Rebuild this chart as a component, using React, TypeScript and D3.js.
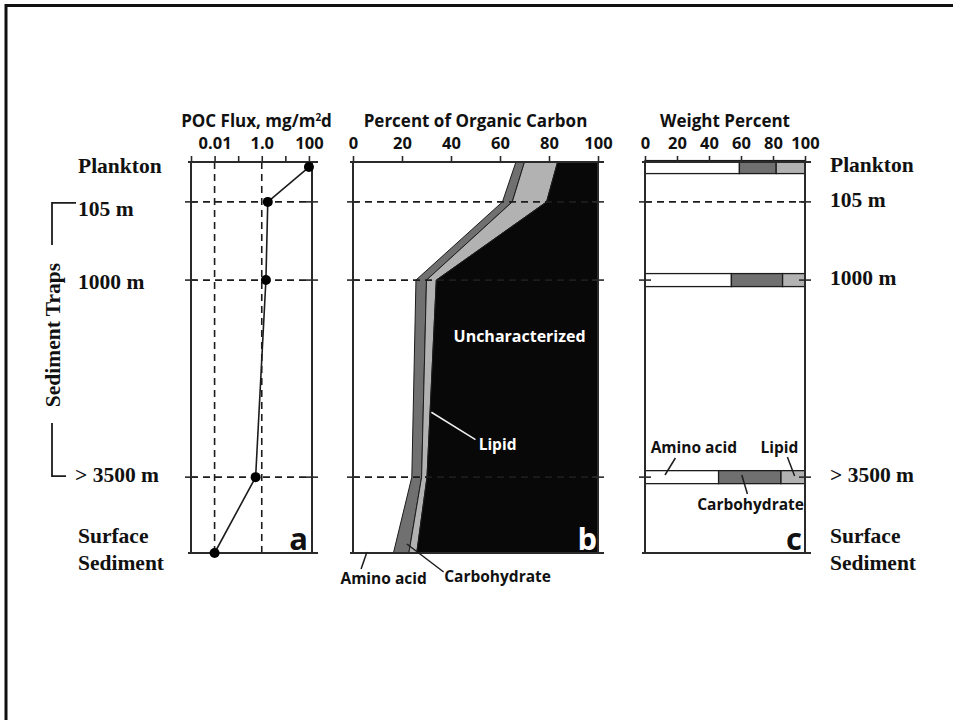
import { useRef, useEffect } from 'react';
import * as d3 from 'd3';

// sampling levels, top to bottom
const stations = ['Plankton', '105 m', '1000 m', '> 3500 m', 'Surface Sediment'];
// relative position of each level down the profile (0 = top axis, 1 = bottom)
const stationPos = [0.013, 0.102, 0.302, 0.806, 1.0];
const trapStations = ['105 m', '1000 m', '> 3500 m'];

// panel a: POC flux, mg/m2/d
const pocFlux = [100, 1.8, 1.5, 0.55, 0.01];
const fluxTicks = [0.001, 0.01, 0.1, 1, 10, 100];
const fluxLabels = ['', '0.01', '', '1.0', '', '100'];

// panel b: percent of organic carbon
const aminoOC = [66.5, 61, 25.7, 24, 16.5];
const carboOC = [3.5, 4, 4.3, 4, 6.3];
const lipidOC = [13.5, 14, 4, 2.2, 3.2];

// panel c: weight percent
const weightStations = ['Plankton', '1000 m', '> 3500 m'];
const aminoWt = [59, 54, 46];
const carboWt = [23, 32, 39];
const lipidWt = [18, 14, 15];

const pctTicks = [0, 20, 40, 60, 80, 100];

const SANS = "'Open Sans', 'Liberation Sans', sans-serif";
const SERIF = "'Liberation Serif', 'Times New Roman', serif";
const INK = '#1c1c1c';
const DARK = '#707070';
const LIGHT = '#b2b2b2';

export default function App() {
  const ref = useRef<SVGSVGElement | null>(null);

  useEffect(() => {
    if (!ref.current) return;
    const svg = d3.select(ref.current);
    svg.selectAll('*').remove();

    const top = 162;
    const bottom = 553;
    const y = d3.scaleLinear().domain([0, 1]).range([top, bottom]);
    const yOf = (s: string) => y(stationPos[stations.indexOf(s)]);

    const xa = d3.scaleLog().domain([0.001, 135]).range([191, 312]);
    const xb = d3.scaleLinear().domain([0, 100]).range([353, 598]);
    const xc = d3.scaleLinear().domain([0, 100]).range([645, 805]);

    // page frame (top and left only)
    svg.append('path').attr('d', 'M6,720V5.5H953').attr('fill', 'none').attr('stroke', '#111').attr('stroke-width', 3);

    // ---------- panel b: stacked profile ----------
    const profile = stations.map((s, i) => ({
      pos: i === 0 ? 0 : stationPos[i],
      amino: aminoOC[i],
      carbo: carboOC[i],
      lipid: lipidOC[i],
      other: 100 - aminoOC[i] - carboOC[i] - lipidOC[i],
    }));
    const stackB = d3.stack<any>().keys(['amino', 'carbo', 'lipid', 'other'])(profile);
    const fillB: Record<string, string> = { amino: '#fff', carbo: DARK, lipid: LIGHT, other: '#080808' };
    const areaB = d3
      .area<any>()
      .y(d => y(d.data.pos))
      .x0(d => xb(d[0]))
      .x1(d => xb(d[1]));
    svg
      .append('g')
      .selectAll('path')
      .data(stackB)
      .join('path')
      .attr('d', d => areaB(d as any))
      .attr('fill', d => fillB[d.key])
      .attr('stroke', d => (d.key === 'amino' ? 'none' : INK))
      .attr('stroke-width', 1);

    const dashed = (g: any, x1: number, y1: number, x2: number, y2: number) =>
      g
        .append('line')
        .attr('x1', x1)
        .attr('y1', y1)
        .attr('x2', x2)
        .attr('y2', y2)
        .attr('stroke', INK)
        .attr('stroke-width', 1.6)
        .attr('stroke-dasharray', '7,5');

    const grid = svg.append('g');
    // panel a grid
    [0.01, 1].forEach(v => dashed(grid, xa(v), top, xa(v), bottom));
    trapStations.forEach(s => dashed(grid, xa.range()[0], yOf(s), xa.range()[1], yOf(s)));
    // panel b grid
    trapStations.forEach(s => dashed(grid, xb(0), yOf(s), xb(100), yOf(s)));
    // panel c grid (only where no bar)
    trapStations.filter(s => !weightStations.includes(s)).forEach(s => dashed(grid, xc(0), yOf(s), xc(100), yOf(s)));

    // ---------- panel c: stacked bars ----------
    const wt = weightStations.map((s, i) => ({ station: s, amino: aminoWt[i], carbo: carboWt[i], lipid: lipidWt[i] }));
    const stackC = d3.stack<any>().keys(['amino', 'carbo', 'lipid'])(wt);
    const fillC: Record<string, string> = { amino: '#fff', carbo: DARK, lipid: LIGHT };
    const barH = 13;
    svg
      .append('g')
      .selectAll('g')
      .data(stackC)
      .join('g')
      .attr('fill', d => fillC[d.key])
      .selectAll('rect')
      .data(d => d)
      .join('rect')
      .attr('x', d => xc(d[0]))
      .attr('width', d => xc(d[1]) - xc(d[0]))
      .attr('y', d => yOf(d.data.station) - barH / 2)
      .attr('height', barH)
      .attr('stroke', INK)
      .attr('stroke-width', 1.3);

    // ---------- panel frames, axes ----------
    const frames = [
      { lo: xa.range()[0], hi: xa.range()[1] },
      { lo: xb(0), hi: xb(100) },
      { lo: xc(0), hi: xc(100) },
    ];
    const fr = svg.append('g').attr('stroke', '#2a2a2a').attr('fill', 'none');
    frames.forEach(f => {
      fr.append('line').attr('x1', f.lo).attr('x2', f.lo).attr('y1', top).attr('y2', bottom).attr('stroke-width', 2);
      fr.append('line').attr('x1', f.hi).attr('x2', f.hi).attr('y1', top).attr('y2', bottom).attr('stroke-width', 2);
      fr.append('line').attr('x1', f.lo - 3).attr('x2', f.hi + 6).attr('y1', top).attr('y2', top).attr('stroke-width', 2);
      fr.append('line').attr('x1', f.lo - 3).attr('x2', f.hi + 6).attr('y1', bottom).attr('y2', bottom).attr('stroke-width', 2.2);
      trapStations.forEach(s => {
        [f.lo, f.hi].forEach(xx =>
          fr.append('line').attr('x1', xx - 6).attr('x2', xx + 6).attr('y1', yOf(s)).attr('y2', yOf(s)).attr('stroke-width', 1.6)
        );
      });
    });

    const styleAxis = (g: any) => {
      g.select('.domain').remove();
      g.selectAll('line').attr('stroke', '#2a2a2a').attr('stroke-width', 1.6);
      g.selectAll('text').attr('font-family', SANS).attr('font-weight', 700).attr('font-size', 16.5).attr('fill', '#111');
    };
    svg
      .append('g')
      .attr('transform', `translate(0,${top})`)
      .call(d3.axisTop(xa).tickValues(fluxTicks).tickFormat((_, i) => fluxLabels[i]).tickSize(6).tickPadding(7) as any)
      .call(styleAxis);
    svg
      .append('g')
      .attr('transform', `translate(0,${top})`)
      .call(d3.axisTop(xb).tickValues(pctTicks).tickSize(6).tickPadding(7) as any)
      .call(styleAxis);
    svg
      .append('g')
      .attr('transform', `translate(0,${top})`)
      .call(d3.axisTop(xc).tickValues(pctTicks).tickSize(6).tickPadding(7) as any)
      .call(styleAxis);

    // panel titles
    const sans = (x: number, yy: number, t: string, size = 17, fill = '#111', anchor = 'middle') =>
      svg
        .append('text')
        .attr('x', x)
        .attr('y', yy)
        .attr('text-anchor', anchor)
        .attr('font-family', SANS)
        .attr('font-weight', 700)
        .attr('font-size', size)
        .attr('fill', fill)
        .text(t);
    const title = sans((xa.range()[0] + xa.range()[1]) / 2 + 5, 127, '');
    title.append('tspan').text('POC Flux, mg/m');
    title.append('tspan').attr('font-size', 10).attr('dy', -6).text('2');
    title.append('tspan').attr('dy', 6).text('d');
    sans(xb(50), 127, 'Percent of Organic Carbon');
    sans(xc(50), 127, 'Weight Percent');

    // ---------- panel a: flux profile ----------
    const line = d3
      .line<number>()
      .x(d => xa(d))
      .y((_, i) => y(stationPos[i]));
    svg.append('path').attr('d', line(pocFlux)).attr('fill', 'none').attr('stroke', INK).attr('stroke-width', 1.6);
    svg
      .append('g')
      .selectAll('circle')
      .data(pocFlux)
      .join('circle')
      .attr('cx', d => xa(d))
      .attr('cy', (_, i) => y(stationPos[i]))
      .attr('r', 5)
      .attr('fill', '#000');

    // panel letters
    sans(xa.range()[1] - 4, 550, 'a', 31, '#111', 'end');
    sans(xb(100) - 1, 550, 'b', 31, '#fff', 'end');
    sans(xc(100) - 3, 550, 'c', 31, '#111', 'end');

    // panel b annotations
    sans(xb(68), 342, 'Uncharacterized', 16, '#fff');
    sans(xb(59), 450, 'Lipid', 15.5, '#fff');
    const leader = (x1: number, y1: number, x2: number, y2: number, c: string) =>
      svg.append('line').attr('x1', x1).attr('y1', y1).attr('x2', x2).attr('y2', y2).attr('stroke', c).attr('stroke-width', 1.5);
    leader(xb(32), y(0.64), xb(50), y(0.71), '#eee');
    sans(xb(12.5), 584, 'Amino acid', 15.5);
    leader(xb(5.7), 552, xb(3.3), 569, INK);
    sans(xb(59), 582, 'Carbohydrate', 15.5);
    leader(xb(22), 544, xb(37), 572, INK);

    // panel c annotations
    sans(xc(30.5), 453, 'Amino acid', 15.5);
    leader(xc(19), 458, xc(12.5), 475, INK);
    sans(xc(84), 453, 'Lipid', 15.5);
    leader(xc(89), 457, xc(93.5), 476, INK);
    sans(xc(66), 510, 'Carbohydrate', 15.5);
    leader(xc(60.5), 475, xc(64), 494, INK);

    // ---------- station labels ----------
    const serif = (x: number, yy: number, t: string) =>
      svg
        .append('text')
        .attr('x', x)
        .attr('y', yy)
        .attr('font-family', SERIF)
        .attr('font-weight', 700)
        .attr('font-size', 21.5)
        .attr('fill', '#111')
        .text(t);
    const leftDy = [6, 14, 9, 5];
    stations.slice(0, 4).forEach((s, i) => serif(i === 3 ? 75 : 78, yOf(s) + leftDy[i], s));
    stations.slice(0, 4).forEach(s => serif(830, yOf(s) + 5, s));
    ['Surface', 'Sediment'].forEach((t, i) => {
      serif(78, 543 + i * 27, t);
      serif(830, 543 + i * 27, t);
    });

    // sediment trap bracket
    const yTop = yOf('105 m') + 1;
    const yBot = yOf('> 3500 m') - 1;
    svg
      .append('path')
      .attr('d', `M76,${yTop}H52V245M52,423V${yBot}H66`)
      .attr('fill', 'none')
      .attr('stroke', INK)
      .attr('stroke-width', 1.8);
    svg
      .append('text')
      .attr('transform', 'translate(60,335) rotate(-90)')
      .attr('text-anchor', 'middle')
      .attr('font-family', SERIF)
      .attr('font-weight', 700)
      .attr('font-size', 21.5)
      .attr('fill', '#111')
      .text('Sediment Traps');
  }, []);

  return <svg ref={ref} width={953} height={720} style={{ position: 'absolute', left: 0, top: 0, background: '#fff' }} />;
}
